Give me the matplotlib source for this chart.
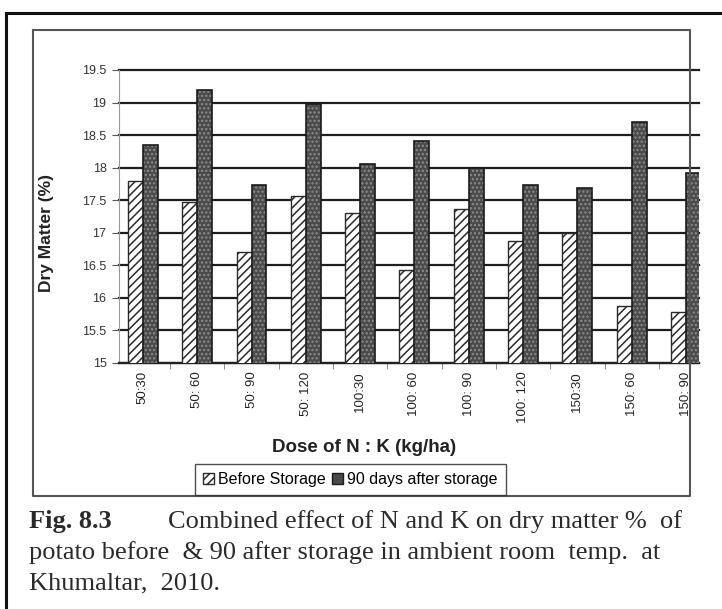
import matplotlib.pyplot as plt
from matplotlib.patches import Patch
from matplotlib.lines import Line2D

doses = ["50:30", "50: 60", "50: 90", "50: 120", "100:30", "100: 60",
         "100: 90", "100: 120", "150:30", "150: 60", "150: 90"]
before_storage = [17.79, 17.47, 16.70, 17.56, 17.31, 16.43, 17.36, 16.88, 16.99, 15.87, 15.79]
after_90_days = [18.35, 19.20, 17.73, 18.98, 18.05, 18.41, 17.99, 17.73, 17.69, 18.70, 17.92]
y_ticks = [15, 15.5, 16, 16.5, 17, 17.5, 18, 18.5, 19, 19.5]
y_tick_labels = ["15", "15.5", "16", "16.5", "17", "17.5", "18", "18.5", "19", "19.5"]

W, H = 722, 609
fig = plt.figure(figsize=(W / 100, H / 100), dpi=100)
plt.rcParams['hatch.linewidth'] = 1.1


def fx(px):
    return px / W


def fy(py):
    return 1 - py / H


ax = fig.add_axes([fx(119), fy(363), fx(699) - fx(119), fy(70) - fy(363)])

x = list(range(len(doses)))
bw = 0.276
xb = [i - bw / 2 for i in x]
xa = [i + bw / 2 for i in x]

ax.bar(xb, before_storage, width=bw, facecolor="white", edgecolor="#2a2a2a",
       hatch="////", linewidth=1.0, zorder=3)
ax.bar(xa, after_90_days, width=bw, facecolor="#4a4a4a", edgecolor="#8c8c8c",
       hatch="....", linewidth=0, zorder=3)
ax.bar(xa, after_90_days, width=bw, fill=False, edgecolor="#1a1a1a", linewidth=1.2, zorder=4)

ax.set_ylim(15, 19.5)
ax.set_xlim(-0.44, 10.24)
ax.set_yticks(y_ticks)
ax.set_yticklabels(y_tick_labels, fontsize=9, family="Liberation Sans", color="#333")
ax.set_xticks(x)
ax.set_xticklabels(doses, rotation=90, fontsize=9.5, family="Liberation Sans", color="#222")
ax.set_xticks([i + 0.5 for i in x[:-1]], minor=True)
ax.tick_params(axis="x", which="major", length=0, pad=6)
ax.tick_params(axis="x", which="minor", length=4, color="#777")
ax.tick_params(axis="y", length=5, color="#555", pad=4)

ax.grid(axis="y", color="#1e1e1e", linewidth=1.6, zorder=0)
for gl in ax.get_ygridlines():
    gl.set_clip_on(False)
ax.set_axisbelow(True)
for side in ["top", "right"]:
    ax.spines[side].set_visible(False)
ax.spines["left"].set_color("#999")
ax.spines["left"].set_linewidth(0.8)
ax.spines["bottom"].set_color("#222")
ax.spines["bottom"].set_linewidth(1.6)

fig.text(fx(47), fy(233), "Dry Matter (%)", rotation=90, ha="center", va="center",
         fontsize=12.5, fontweight="bold", family="Liberation Sans", color="#222")
fig.text(fx(364), fy(447), "Dose of N : K (kg/ha)", ha="center", va="center",
         fontsize=13.5, fontweight="bold", family="Liberation Sans", color="#222")

handles = [Patch(facecolor="white", edgecolor="#2a2a2a", hatch="////", label="Before Storage"),
           Patch(facecolor="#4a4a4a", edgecolor="#1a1a1a", label="90 days after storage")]
fig.legend(handles=handles, loc="lower left", ncol=2,
           bbox_to_anchor=(fx(195), fy(495)),
           prop={"family": "Liberation Sans", "size": 11.5}, frameon=True, fancybox=False,
           edgecolor="#222", handlelength=0.7, handleheight=0.7, handletextpad=0.25,
           borderpad=0.5, columnspacing=0.4, borderaxespad=0)

# outer page frame and inner chart frame
fig.add_artist(Line2D([fx(6), 1], [fy(13), fy(13)], color="#111", linewidth=2.2))
fig.add_artist(Line2D([fx(6), fx(6)], [fy(13), 0], color="#111", linewidth=2.2))
fig.add_artist(Line2D([fx(33), fx(690), fx(690), fx(33), fx(33)],
                      [fy(30), fy(30), fy(496), fy(496), fy(30)], color="#555", linewidth=1.5))

cap = dict(fontsize=19, family="Liberation Serif", va="baseline", color="#2a2a2a")
fig.text(fx(29), fy(528), "Fig. 8.3", fontweight="bold", **cap)
fig.text(fx(682), fy(528), "Combined effect of N and K on dry matter %  of", ha="right", **cap)
fig.text(fx(29), fy(559), "potato before  & 90 after storage in ambient room  temp.  at", **cap)
fig.text(fx(29), fy(589), "Khumaltar,  2010.", **cap)

fig.savefig("out.png", dpi=100)
